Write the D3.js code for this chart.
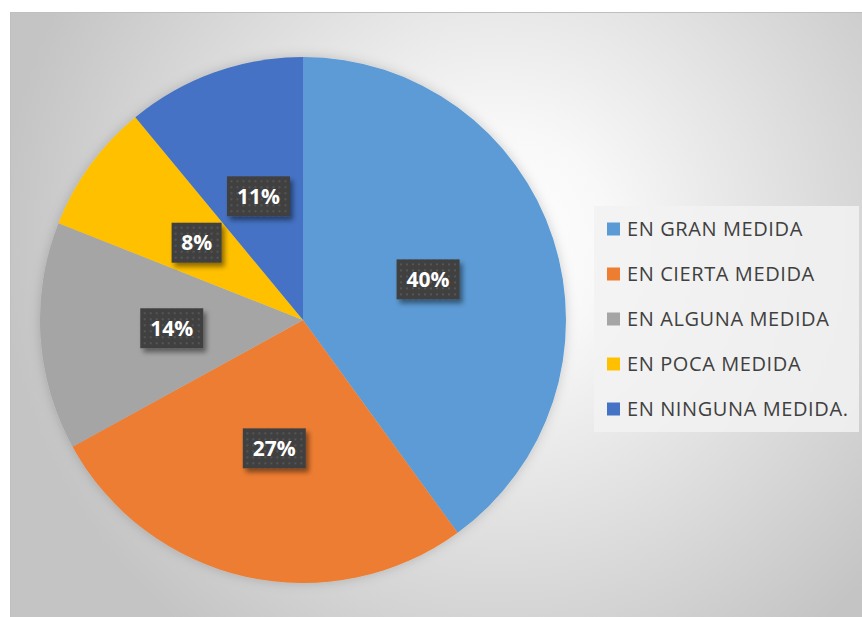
<!DOCTYPE html>
<html>
<head>
<meta charset="utf-8">
<script src="https://cdn.jsdelivr.net/npm/d3@7"></script>
<style>
  body { margin: 0; background: #fff; }
  svg { display: block; }
</style>
</head>
<body>
<svg id="chart"></svg>
<script>
const categories = ['EN GRAN MEDIDA', 'EN CIERTA MEDIDA', 'EN ALGUNA MEDIDA', 'EN POCA MEDIDA', 'EN NINGUNA MEDIDA.'];
const values = [40, 27, 14, 8, 11];
const colors = ['#5B9BD5', '#ED7D31', '#A5A5A5', '#FFC000', '#4472C4'];

const width = 862;
const height = 617;
const cx = 303, cy = 320, radius = 263;

let svg = d3.select('#chart').attr('width', width).attr('height', height);
let defs = svg.append('defs');

// background gradient
let grad = defs.append('radialGradient')
    .attr('id', 'bg')
    .attr('gradientUnits', 'userSpaceOnUse')
    .attr('cx', 500).attr('cy', 240).attr('r', 500);
grad.append('stop').attr('offset', '0%').attr('stop-color', '#ffffff');
grad.append('stop').attr('offset', '22%').attr('stop-color', '#f8f8f8');
grad.append('stop').attr('offset', '100%').attr('stop-color', '#c4c4c4');

// dotted pattern for label boxes
let pat = defs.append('pattern')
    .attr('id', 'dots')
    .attr('patternUnits', 'userSpaceOnUse')
    .attr('width', 6).attr('height', 6);
pat.append('rect').attr('width', 6).attr('height', 6).attr('fill', '#404040');
pat.append('rect').attr('x', 2).attr('y', 2).attr('width', 2).attr('height', 2).attr('fill', '#555555');

let shadow = defs.append('filter').attr('id', 'shadow')
    .attr('x', '-20%').attr('y', '-20%').attr('width', '150%').attr('height', '150%');
shadow.append('feDropShadow')
    .attr('dx', 3).attr('dy', 4).attr('stdDeviation', 2.5)
    .attr('flood-color', '#000').attr('flood-opacity', 0.45);

let pieShadow = defs.append('filter').attr('id', 'pieShadow')
    .attr('x', '-10%').attr('y', '-10%').attr('width', '120%').attr('height', '120%');
pieShadow.append('feDropShadow')
    .attr('dx', 0).attr('dy', 0).attr('stdDeviation', 6)
    .attr('flood-color', '#000').attr('flood-opacity', 0.18);

svg.append('rect')
    .attr('x', 10.5).attr('y', 12.5)
    .attr('width', width - 10).attr('height', height - 12)
    .attr('fill', 'url(#bg)')
    .attr('stroke', '#bfbfbf');

// pie
let pie = d3.pie().sort(null).value(d => d);
let arcs = pie(values);
let arc = d3.arc().innerRadius(0).outerRadius(radius);
let labelArc = d3.arc().innerRadius(radius * 0.5).outerRadius(radius * 0.5);

let g = svg.append('g').attr('transform', 'translate(' + cx + ',' + cy + ')');

g.append('g').attr('filter', 'url(#pieShadow)')
    .selectAll('path')
    .data(arcs)
    .enter()
    .append('path')
    .attr('d', arc)
    .attr('fill', (d, i) => colors[i]);

// data labels
let labels = g.selectAll('g.lbl')
    .data(arcs)
    .enter()
    .append('g')
    .attr('class', 'lbl')
    .attr('transform', d => 'translate(' + labelArc.centroid(d) + ')');

labels.each(function (d) {
    let lg = d3.select(this);
    let txt = d.data + '%';
    let w = txt.length > 2 ? 63 : 50;
    lg.append('rect')
        .attr('x', -w / 2).attr('y', -20)
        .attr('width', w).attr('height', 40)
        .attr('fill', 'url(#dots)')
        .attr('filter', 'url(#shadow)');
    lg.append('text')
        .attr('text-anchor', 'middle')
        .attr('dy', '0.36em')
        .attr('fill', '#ffffff')
        .attr('font-family', 'Open Sans, sans-serif')
        .attr('font-weight', 'bold')
        .attr('font-size', 21)
        .text(txt);
});

// legend
let legend = svg.append('g');
legend.append('rect')
    .attr('x', 594).attr('y', 206)
    .attr('width', 265).attr('height', 226)
    .attr('fill', '#f2f2f2')
    .attr('fill-opacity', 0.85);

let yLeg = d3.scalePoint()
    .domain(categories)
    .range([229, 409]);

let items = legend.selectAll('g.item')
    .data(categories)
    .enter()
    .append('g')
    .attr('class', 'item')
    .attr('transform', d => 'translate(607,' + yLeg(d) + ')');

items.append('rect')
    .attr('x', 0).attr('y', -6.5)
    .attr('width', 13).attr('height', 13)
    .attr('fill', (d, i) => colors[i]);

items.append('text')
    .attr('x', 20)
    .attr('dy', '0.36em')
    .attr('fill', '#404040')
    .attr('font-family', 'Open Sans, sans-serif')
    .attr('font-size', 20)
    .attr('letter-spacing', 0.6)
    .text(d => d);
</script>
</body>
</html>
